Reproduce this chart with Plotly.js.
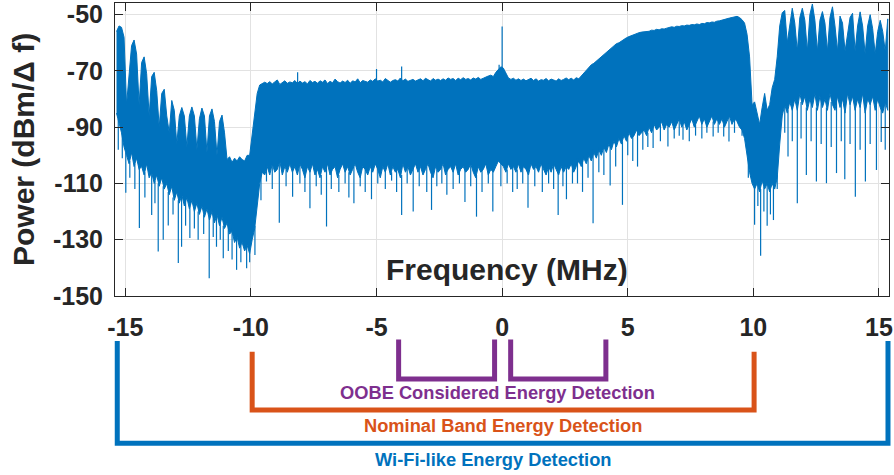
<!DOCTYPE html>
<html>
<head>
<meta charset="utf-8">
<script src="https://cdn.plot.ly/plotly-3.0.1.min.js"></script>
<style>html,body{margin:0;padding:0;background:#fff;}#chart{width:894px;height:475px;}</style>
</head>
<body>
<div id="chart"></div>
<script>
// Frequency bins (MHz): evenly spaced FFT bins, 0.1 MHz apart
const fStart = -15.35, fStep = 0.1;

// Upper envelope of the measured spectrum per bin (dBm/Δf)
const upperDb = [
 -56,-54,-54.5,-58,-82,-70,-61,-59,-64,-82,
 -67,-65,-71,-86,-72,-70.5,-77,-90,-78,-76.5,
 -86,-92,-80.5,-84,-96,-86,-83,-86,-97,-86,
 -82.8,-86,-98,-87,-83.2,-86,-99,-86,-83.5,-88,
 -100,-88,-85.7,-92,-101.5,-100.5,-102.5,-101,-102,-100.5,
 -101.5,-102,-100,-100,-92,-84,-78,-75,-74.5,-74,
 -74.5,-73.8,-74.6,-74,-73.2,-74.8,-74,-73.5,-74.4,-73.9,
 -74.2,-73.4,-74.5,-73.6,-74.3,-73.8,-74.6,-73.4,-74.1,-73.7,
 -74.4,-73.5,-74,-73.2,-74.5,-73.7,-74.2,-72.9,-73.8,-74.3,
 -73.6,-74.1,-73.3,-74.4,-73.5,-73.9,-72.8,-74.2,-73.4,-73.8,
 -74,-73.2,-73.7,-72.8,-73.6,-73.3,-73.9,-72.7,-73.5,-74,
 -73.4,-73.1,-73.6,-72.5,-73.5,-72.9,-73.7,-73.2,-73,-73.6,
 -73.2,-72.8,-73.5,-72.6,-73.1,-73.6,-72.7,-73.3,-72.9,-73.4,
 -72.8,-73.3,-72.5,-73,-72.7,-73.4,-72.6,-73.1,-72.4,-73,
 -72.7,-73.2,-72.5,-72.9,-72.3,-73,-72.6,-72.1,-71.8,-71.5,
 -72,-70.5,-69.5,-68.5,-69,-71,-72.5,-73,-72.6,-73.3,
 -72.8,-73.4,-72.9,-73.5,-73,-72.6,-73.4,-72.8,-73.6,-73.1,
 -73.3,-72.7,-73.5,-72.9,-73.2,-73.6,-72.8,-73.4,-73,-72.5,
 -73.1,-72.6,-73.2,-72.4,-72.8,-71.8,-71,-70,-68.8,-67.8,
 -67.3,-66.5,-65.8,-64.8,-64.2,-63.2,-62.5,-61.8,-61,-60.3,
 -60,-59.3,-58.6,-58.2,-57.8,-57.4,-57,-56.8,-56.4,-56.2,
 -56.1,-55.8,-55.9,-55.5,-55.6,-55.2,-55.4,-55,-55.1,-54.8,
 -54.6,-54.3,-54.5,-54.1,-54.2,-53.9,-54,-53.7,-53.8,-53.5,
 -53.6,-53.3,-53.5,-53.1,-53.2,-52.8,-52.9,-52.6,-52.7,-52.3,
 -52.2,-51.9,-51.7,-51.4,-51.2,-51,-50.8,-50.6,-51,-51.8,
 -53,-57,-65,-82,-81,-85,-89,-83,-78,-84,
 -82,-76,-73,-65,-54,-49.3,-48.5,-60,-53,-47.7,
 -53,-63,-51,-47.7,-52,-63,-50,-46.2,-52,-63,
 -52,-48.9,-53,-63,-51,-47.2,-54,-63,-50.5,-53,
 -63,-56,-51,-49.5,-63,-54,-49,-54,-64,-54,
 -50,-55,-64,-56,-52,-56,-63,-51.5
];

// Lower edge of the dense part of the spectrum per bin (dBm/Δf)
const lowerDb = [
 -85,-88,-92,-97,-100,-103,-99,-104,-101,-105,
 -104,-107,-103,-108,-106,-110,-107,-111,-108,-112,
 -110,-114,-111,-116,-113,-117,-114,-118,-115,-119,
 -116,-120,-117,-121,-118,-122,-119,-123,-120,-124,
 -121,-125,-122,-126,-124,-128,-127,-131,-129,-133,
 -131,-134,-132,-135,-130,-126,-118,-110,-106,-107,
 -104,-107,-103,-106,-105,-102,-107,-104,-106,-103,
 -106,-104,-107,-103,-105,-108,-104,-106,-103,-107,
 -105,-108,-104,-106,-103,-107,-105,-104,-108,-105,
 -103,-106,-104,-107,-105,-103,-106,-108,-104,-105,
 -107,-104,-106,-103,-105,-108,-104,-106,-103,-107,
 -104,-106,-105,-108,-103,-106,-104,-107,-105,-103,
 -106,-104,-107,-105,-103,-106,-108,-104,-106,-105,
 -103,-107,-105,-104,-106,-103,-107,-105,-104,-106,
 -105,-103,-106,-108,-104,-106,-105,-103,-107,-105,
 -106,-104,-102,-103,-104,-106,-103,-105,-104,-106,
 -103,-106,-104,-105,-107,-103,-105,-104,-106,-103,
 -105,-107,-104,-106,-103,-105,-107,-104,-106,-104,
 -105,-103,-106,-104,-102,-104,-101,-103,-100,-102,
 -99,-101,-98,-100,-97,-99,-96,-98,-95,-97,
 -94,-96,-93,-95,-92,-94,-93,-91,-93,-92,
 -91,-93,-90,-92,-89,-91,-90,-88,-91,-89,
 -90,-88,-91,-89,-87,-90,-88,-91,-89,-87,
 -90,-88,-86,-89,-87,-90,-88,-86,-89,-87,
 -89,-87,-90,-88,-86,-89,-87,-88,-90,-91,
 -94,-99,-106,-110,-112,-110,-113,-109,-112,-110,
 -113,-110,-112,-108,-96,-86,-82,-85,-81,-84,
 -80,-84,-78,-82,-79,-84,-80,-83,-78,-84,
 -79,-83,-80,-84,-78,-82,-84,-79,-83,-80,
 -85,-78,-82,-79,-84,-80,-83,-78,-85,-80,
 -82,-79,-84,-80,-83,-85,-81,-84
];

// Deep downward spikes (frequency MHz, minimum dBm/Δf)
const dipFreq = [
 -15.28,-15.12,-14.98,-14.82,-14.62,-14.44,-14.22,-13.95,-13.82,-13.69,-13.49,-13.29,-13.1,-12.89,-12.76,-12.6,-12.43,-12.25,-12.1,-11.88,-11.66,-11.5,-11.37,-11.22,-11.1,-10.9,-10.75,-10.57,-10.4,-10.17,-10.05,-9.84,
 -9.6,-9.38,-9.15,-8.87,-8.6,-8.34,-8.05,-7.85,-7.65,-7.4,-7.2,-6.99,-6.8,-6.5,-6.25,-6.1,-5.9,-5.65,-5.45,-5.2,-4.95,-4.65,-4.4,-4.2,-4.0,-3.78,-3.54,-3.3,-3.0,-2.81,-2.6,-2.4,-2.2,-1.95,-1.7,-1.48,-1.25,-1.02,-0.8,-0.55,-0.37,-0.05,
 0.2,0.42,0.6,0.82,1.03,1.3,1.6,1.85,2.05,2.23,2.42,2.56,2.8,3.0,3.2,3.42,3.62,3.85,4.05,4.3,4.52,4.79,5.0,5.2,5.39,5.6,5.8,6.01,6.3,6.6,6.85,7.05,7.2,7.45,7.7,7.95,8.15,8.4,8.6,8.82,9.03,9.25,9.55,
 9.8,10.05,10.18,10.29,10.42,10.55,10.68,10.8,10.95,
 11.25,11.38,11.55,11.75,11.9,12.11,12.3,12.51,12.7,12.91,13.1,13.31,13.5,13.64,13.85,14.06,14.25,14.46,14.65,14.9,15.09,15.25
];
const dipDb = [
 -98,-101,-113.3,-108,-112,-125.8,-115,-121.2,-117,-134.2,-130,-124.9,-121,-138.3,-132.5,-125,-129.4,-126,-130,-128,-143.7,-129,-132.5,-130,-136.6,-134,-137,-140.7,-138,-140.1,-138,-135.4,
 -116,-109.3,-112,-124,-111,-114.7,-110,-113,-118.8,-111,-114,-125.3,-112,-113,-110,-115,-117,-111,-113,-115.6,-110,-112,-109,-113,-121.2,-110,-120,-111,-113,-119.4,-111,-110,-114,-112,-110,-116.6,-111,-121.8,-113,-110,-120,-111,
 -110,-113,-112,-110,-118.6,-111,-113,-110,-112,-121.2,-111,-115.6,-110,-110,-113,-108,-124.1,-106,-107,-110.7,-104,-117.6,-100,-102,-104,-98,-97,-97.4,-95,-96.9,-94,-93,-94.5,-95,-93,-94,-92,-93.3,-92,-93.3,-95.1,-92,-93,
 -108,-124.7,-118,-135.7,-120,-125,-121,-123,-112,
 -92,-100.4,-95,-117,-94,-107,-95,-109.3,-96,-109.9,-97,-106.3,-95,-108.5,-96,-114.7,-98,-109.3,-96,-105.2,-95.3,-98
];

// Upward spikes (DC carrier etc.)
const peakFreq = [-8.14, -5.0, -4.0, -0.12, 0.0];
const peakDb   = [-70.5, -69.3, -68.4, -67.8, -54.2];

// Axis ticks
const xTicks = [-15, -10, -5, 0, 5, 10, 15];
const xTickText = ['-15', '-10', '-5', '0', '5', '10', '15'];
const yTicks = [-150, -130, -110, -90, -70, -50];
const yTickText = ['-150', '-130', '-110', '-90', '-70', '-50'];

// Detection bands (MHz) with labels
const bandNames = ['OOBE Considered Energy Detection', 'Nominal Band Energy Detection', 'Wi-Fi-like Energy Detection'];
const bandColors = ['#7E2F8E', '#D95319', '#0072BD'];
const oobeLow = [-4.12, -0.30];
const oobeHigh = [0.34, 4.13];
const nominalBand = [-9.95, 10.03];
const wifiBand = [-15.32, 15.36];

// ---------- build ----------
const xRange = [-15.41, 15.4];
const freq = upperDb.map((_, i) => +(fStart + i * fStep).toFixed(3));
const blue = '#0072BD';

const body = {
  x: freq.concat(freq.slice().reverse()),
  y: upperDb.concat(lowerDb.slice().reverse()),
  mode: 'lines', fill: 'toself', fillcolor: blue,
  line: {color: blue, width: 1}, hoverinfo: 'skip', showlegend: false
};

function nearest(f) { return Math.max(0, Math.min(freq.length - 1, Math.round((f - fStart) / fStep))); }
const dx = [], dy = [];
dipFreq.forEach((f, k) => { dx.push(f, f, null); dy.push(lowerDb[nearest(f)] + 1, dipDb[k], null); });
peakFreq.forEach((f, k) => { dx.push(f, f, null); dy.push(upperDb[nearest(f)] - 1, peakDb[k], null); });
const spikes = {x: dx, y: dy, mode: 'lines', line: {color: blue, width: 1.2}, hoverinfo: 'skip', showlegend: false, connectgaps: false};

// paper coordinates helpers for the brackets under the axis
const plotLeft = 115, plotWidth = 774;
const plotTop = 3, plotBottom = 296, plotH = plotBottom - plotTop;
const px = f => (f - xRange[0]) / (xRange[1] - xRange[0]);
const py = pix => (plotBottom - pix) / plotH;
const pxPix = pix => (pix - plotLeft) / plotWidth;

function bracket(a, b, topPix, botPix, color) {
  const x0 = px(a), x1 = px(b), yt = py(topPix), yb = py(botPix);
  return {type: 'path', xref: 'paper', yref: 'paper',
    path: `M ${x0},${yt} L ${x0},${yb} L ${x1},${yb} L ${x1},${yt}`,
    line: {color: color, width: 5}, layer: 'above'};
}
const shapes = [
  bracket(oobeLow[0], oobeLow[1], 339.5, 379, bandColors[0]),
  bracket(oobeHigh[0], oobeHigh[1], 339.5, 379, bandColors[0]),
  bracket(nominalBand[0], nominalBand[1], 351.7, 410, bandColors[1]),
  bracket(wifiBand[0], wifiBand[1], 341, 443.3, bandColors[2])
];

const fontFam = 'Liberation Sans, Arial, sans-serif';
const labelFont = {family: fontFam, size: 18.3, weight: 'bold'};
const annotations = [
  {text: bandNames[0], xref: 'paper', yref: 'paper', x: px(-0.17), y: py(392), showarrow: false, xanchor: 'center', yanchor: 'middle', font: Object.assign({}, labelFont, {color: bandColors[0]})},
  {text: bandNames[1], xref: 'paper', yref: 'paper', x: px(0.03), y: py(425), showarrow: false, xanchor: 'center', yanchor: 'middle', font: Object.assign({}, labelFont, {color: bandColors[1]})},
  {text: bandNames[2], xref: 'paper', yref: 'paper', x: px(-0.36), y: py(459.5), showarrow: false, xanchor: 'center', yanchor: 'middle', font: Object.assign({}, labelFont, {color: bandColors[2]})},
  {text: 'Frequency (MHz)', xref: 'paper', yref: 'paper', x: px(0.2), y: py(269.5), showarrow: false, xanchor: 'center', yanchor: 'middle',
   font: {family: fontFam, size: 30, weight: 'bold', color: '#262626'}},
  {text: 'Power (dBm/Δ f)', xref: 'paper', yref: 'paper', x: pxPix(23), y: py(150), textangle: -90, showarrow: false, xanchor: 'center', yanchor: 'middle',
   font: {family: fontFam, size: 30, weight: 'bold', color: '#262626'}}
];

const axisCommon = {
  showline: true, linecolor: '#262626', linewidth: 1, mirror: 'ticks',
  ticks: 'inside', ticklen: 8, tickwidth: 1, tickcolor: '#262626',
  showgrid: true, gridcolor: '#e2e2e2', gridwidth: 1, zeroline: false,
  tickfont: {family: fontFam, size: 25, weight: 'bold', color: '#262626'},
  fixedrange: true
};

const layout = {
  width: 894, height: 475,
  margin: {l: plotLeft, r: 894 - plotLeft - plotWidth, t: plotTop, b: 475 - plotBottom, pad: 0},
  paper_bgcolor: '#ffffff', plot_bgcolor: '#ffffff',
  showlegend: false,
  font: {family: fontFam, color: '#262626'},
  xaxis: Object.assign({}, axisCommon, {range: xRange, tickmode: 'array', tickvals: xTicks, ticktext: xTickText, ticklabelstandoff: 9}),
  yaxis: Object.assign({}, axisCommon, {range: [-150, -45.85], tickmode: 'array', tickvals: yTicks, ticktext: yTickText, ticklabelstandoff: 6}),
  shapes: shapes,
  annotations: annotations
};

Plotly.newPlot('chart', [body, spikes], layout, {staticPlot: true, displayModeBar: false});
</script>
</body>
</html>
